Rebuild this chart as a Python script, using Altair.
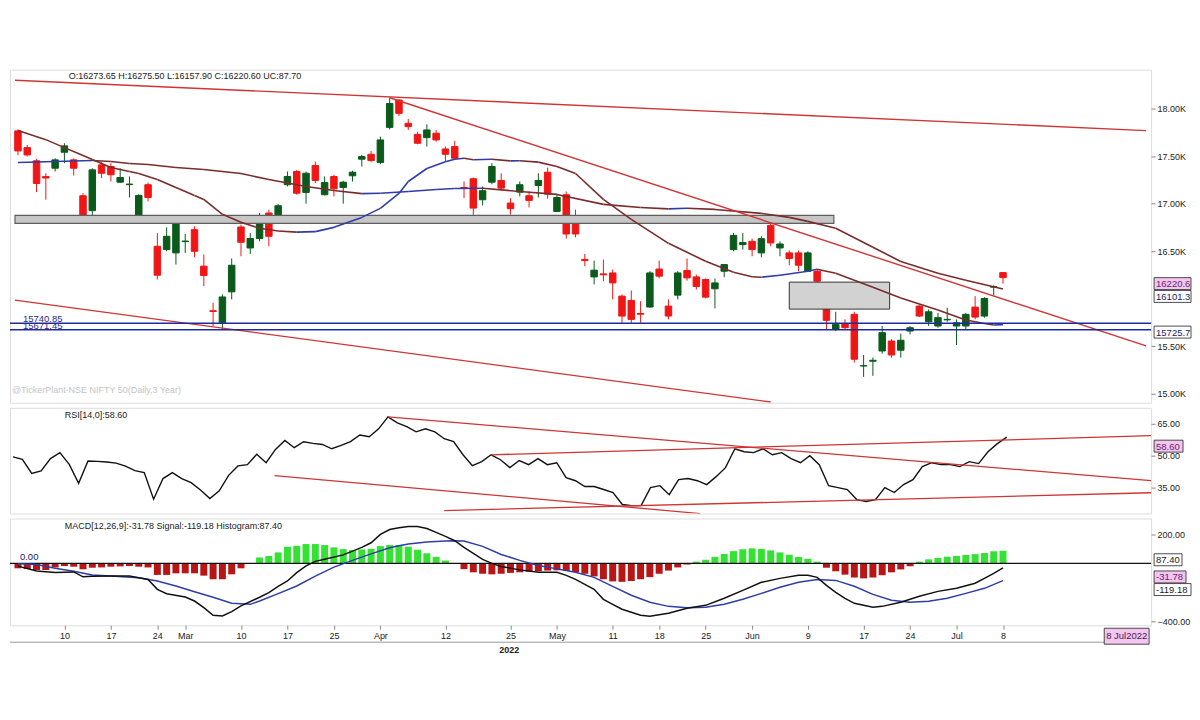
import altair as alt
import pandas as pd

# ---------------- data ----------------
OPEN = [17766,17590,17451,17285,17373,17541,17461,17083,16926,17408,17391,17226,17200,16848,17199,16551,16516,16481,16600,16726,
        16341,15872,15745,16071,16754,16533,16632,16901,16873,17199,17338,17118,17401,17094,17286,17170,17293,17468,17520,17433,
        17803,18091,17846,17730,17695,17741,17576,17601,17170,17262,17041,17226,17244,17006,17121,17083,17191,17331,16918,17094,
        16858,16411,16228,16260,16270,16026,15981,15843,15911,16311,15921,16036,16295,16228,16201,16103,16288,16516,16568,16603,
        16481,16771,16533,16481,16481,16288,16288,15886,15676,15735,15834,15290,15340,15448,15553,15456,15658,15921,15756,15711,
        15776,15711,15711,15910,15816,16120,16273.65]
HIGH = [17780,17618,17472,17320,17478,17636,17478,17110,17373,17436,17426,17373,17286,17100,17223,16690,16750,16813,16680,16761,
        16464,15956,16045,16422,16779,16690,16901,16936,16995,17338,17356,17338,17443,17286,17304,17241,17346,17514,17556,17706,
        18115,18102,17892,17758,17835,17776,17601,17661,17233,17275,17181,17426,17320,17058,17233,17128,17320,17380,17094,17128,
        16936,16470,16400,16411,16306,16043,16085,15973,16288,16400,15991,16288,16422,16253,16212,16212,16365,16690,16690,16631,
        16656,16796,16603,16506,16506,16498,16306,15903,15861,15781,15861,15406,15378,15711,15571,15630,15711,15931,15886,15850,
        15903,15781,15850,16026,16015,16141,16275.50]
LOW = [17510,17496,17121,17041,17338,17426,17296,16796,16831,17268,17233,17216,17065,16835,17023,16201,16498,16359,16481,16435,
       16131,15711,15671,15991,16446,16470,16603,16551,16842,17181,17094,16999,17216,17086,17076,16999,17233,17391,17436,17415,
       17782,17923,17776,17625,17601,17653,17443,17461,17058,16820,16981,17205,17136,16884,17076,16960,17065,17052,16911,16632,
       16645,16341,16149,16183,15991,15745,15745,15745,15903,16212,15781,15991,16189,16096,16001,15897,16225,16498,16516,16446,
       16435,16551,16446,16351,16288,16281,16165,15676,15658,15676,15326,15175,15186,15420,15378,15378,15623,15805,15711,15693,
       15756,15511,15676,15781,15798,16033,16157.90]
CLOSE = [17555,17513,17212,17270,17461,17608,17373,16842,17356,17320,17304,17275,17206,17086,17065,16246,16656,16785,16606,16498,
         16243,15864,16017,16351,16593,16632,16873,16656,16978,17286,17110,17320,17244,17223,17157,17226,17331,17496,17454,17671,
         18055,17951,17811,17636,17776,17671,17520,17478,17160,16953,17136,17391,17163,16947,17199,17034,17244,17100,17065,16680,
         16680,16400,16299,16250,16165,15816,15781,15835,16270,16236,15816,16270,16218,16127,16015,16165,16358,16666,16590,16516,
         16631,16586,16575,16422,16351,16481,16183,15771,15729,15693,15361,15293,15350,15641,15406,15561,15693,15816,15861,15799,
         15781,15745,15834,15805,16001,16126,16220.60]

MA20_IDX = [0,3,5,7,8,10,12,13,15,17,19,20,22,24,26,28,30,32,34,37,39,41,42,44,46,47,48,49,51,53,54,56,58,60,63,66,70,74,77,79,80,82,85,86,88,92,95,99,102,104,105,106]
MA20_VAL = [17770,17674,17590,17506,17464,17380,17338,17317,17254,17170,17086,17044,16887,16803,16740,16712,16700,16705,16750,16855,16950,17107,17233,17370,17440,17468,17478,17462,17468,17450,17452,17437,17391,17317,17044,16834,16582,16393,16278,16230,16225,16246,16288,16309,16267,16120,16005,15879,15774,15738,15722,15725.7]
MA50_IDX = [0,4,8,10,12,14,17,20,24,27,31,34,37,39,42,45,47,50,54,58,63,67,70,72,75,80,83,85,88,92,95,99,102,106]
MA50_VAL = [17433,17443,17454,17443,17422,17412,17380,17359,17317,17254,17181,17139,17105,17110,17128,17149,17160,17162,17128,17097,16992,16960,16945,16952,16939,16897,16855,16813,16740,16540,16391,16267,16194,16101.3]

RSI = [49.4,48.3,41.7,42.9,48.6,51.4,45.9,37.1,47.5,47.3,47.0,46.5,45.1,43.0,42.1,29.7,39.3,42.1,39.3,37.4,
       34.0,30.0,33.6,40.8,45.2,45.8,50.6,46.7,52.9,57.1,53.7,56.5,55.7,55.2,53.2,54.8,56.5,59.6,58.8,62.5,
       68.1,65.3,63.5,61.1,62.5,61.1,57.9,56.5,50.4,45.3,47.2,50.4,48.1,44.4,47.7,45.8,48.6,45.8,46.7,39.7,
       38.3,35.6,35.6,34.2,32.8,27.2,26.7,26.7,35.1,36.0,31.8,38.8,39.3,38.3,36.5,40.2,44.4,53.2,51.8,51.4,
       53.2,50.4,51.4,48.6,46.7,50.0,45.8,36.0,35.1,34.2,29.5,28.6,29.5,35.1,32.8,36.5,38.8,44.9,46.7,45.8,
       45.8,44.9,47.2,46.3,51.8,55.6,58.6]

MACD_IDX = [0,2,4,6,7,8,10,12,14,15,16,18,19,20,21,22,23,24,26,27,28,29,30,31,32,33,35,37,38,39,40,41,42,43,44,45,46,47,48,49,50,51,52,54,56,58,59,60,61,62,63,64,65,66,67,68,70,72,74,76,78,80,82,84,85,86,87,88,89,90,91,92,93,95,97,99,101,103,104,105,106]
MACD_VAL = [-19,-53,-64,-59,-93,-90,-88,-88,-111,-180,-210,-233,-261,-307,-360,-365,-334,-295,-235,-203,-159,-122,-64,-17,14,28,59,111,143,201,235,247,256,256,242,215,187,157,111,69,28,0,-21,-45,-62,-62,-83,-111,-145,-180,-249,-284,-318,-339,-360,-367,-346,-311,-291,-242,-187,-131,-104,-83,-83,-97,-152,-201,-242,-277,-291,-304,-298,-270,-228,-194,-173,-138,-104,-69,-31.78]
SIG_IDX = [0,2,4,6,8,10,13,15,17,19,21,23,25,26,28,30,32,34,36,38,40,41,42,44,46,47,48,50,52,54,56,58,60,62,64,66,68,70,72,74,76,78,80,82,84,86,88,90,92,94,96,98,100,102,104,106]
SIG_VAL = [-2,-7,-33,-55,-80,-88,-99,-122,-157,-197,-235,-277,-284,-261,-210,-157,-88,-26,21,66,108,122,134,148,156,157,155,118,62,21,-14,-38,-62,-97,-159,-221,-270,-298,-308,-304,-284,-249,-208,-166,-131,-111,-118,-159,-215,-256,-270,-263,-242,-208,-173,-119.18]
HIST = [-34,-39,-46,-46,-28,-18,-23,-41,-30,-28,-23,-21,-18,-23,-28,-80,-80,-69,-69,-69,-85,-110,-110,-76,-34,
        -4,
        41,51,76,115,122,134,134,127,111,99,92,97,101,120,127,127,
        116,95,70,45,20,
        -3,
        -40,-62,-72,-76,-72,-66,-62,-58,-55,-50,-48,-52,-60,-72,-90,-110,-125,-128,-122,-110,-95,-72,-50,-28,-8,
        12,25,45,65,85,98,104,100,90,76,60,45,32,12,
        -30,-55,-78,-98,-104,-98,-82,-62,-42,-20,
        12,28,38,46,52,58,64,72,84,87.4]

TICK_IDX = [5,10,15,18,24,29,34,39,46,53,58,64,69,74,79,85,91,96,101,106]
TICK_LABELS = ["10","17","24","Mar","10","17","25","Apr","12","25","May","11","18","25","Jun","9","17","24","Jul","8"]
PRICE_TICKS = [15000,15500,16500,17000,17500,18000]

# trend lines: start idx, start value, end idx, end value
PRICE_TREND = [(-0.32,18300,121.4,17769),(40,18115,121.4,15501),(-0.32,15984,81,14910)]
RSI_TREND = [(40,68.1,121.4,38.3),(51,50.4,121.4,59.3),(46,24.4,121.4,32.7),(27.9,40.7,73.3,23.0)]
SUPPORTS = [15740.85, 15671.45]
BAND = (-0.32, 87.8, 16792, 16876)
BOX = (83.0, 93.8, 15889, 16173)

# ---------------- styling ----------------
W = 1144
HP, HR, HM = 334, 106, 107
FONT = "Liberation Sans"
BULL, BEAR = "#0b5a1c", "#f01616"
BROWN, BLUE = "#7a2c2c", "#2f3da6"
TRED = "#d03434"
SUPB = "#1f2a9c"
PINK = "#f2c6ee"
HGREEN, HRED = "#33e233", "#b81616"

XS = alt.Scale(domain=[-0.32, 121.4], nice=False, zero=False)
YP = alt.Scale(domain=[14902, 18411], nice=False, zero=False)
YR = alt.Scale(domain=[23.0, 72.3], nice=False, zero=False)
YM = alt.Scale(domain=[-429, 311], nice=False, zero=False)

N = len(CLOSE)
cdf = pd.DataFrame({"i": list(range(N)), "o": OPEN, "h": HIGH, "l": LOW, "c": CLOSE})
cdf["dir"] = ["up" if c >= o else "down" for o, c in zip(OPEN, CLOSE)]
cdf["top"] = [max(o, c) for o, c in zip(OPEN, CLOSE)]
cdf["bot"] = [min(o, c) for o, c in zip(OPEN, CLOSE)]

labexpr = "[" + ",".join(f"'{s}'" for s in TICK_LABELS) + "][indexof([" + ",".join(str(v) for v in TICK_IDX) + "], datum.value)]"
x_axis = alt.Axis(values=TICK_IDX, labelExpr=labexpr, tickSize=4, grid=False, domain=False, labelFontSize=9,
                  labelColor="#222", title="2022", titleX=500, titleY=24, titleBaseline="middle", titleAlign="center",
                  titleFontSize=9, titleFontWeight="bold", titleColor="#222", labelPadding=2, labelFont=FONT, titleFont=FONT)

def mkX(axis):
    def X(f):
        return alt.X(f, type="quantitative", scale=XS, axis=axis, title=None)
    return X

def mkY(scale, axis):
    def Y(f):
        return alt.Y(f, type="quantitative", scale=scale, axis=axis, title=None)
    return Y

price_axis = alt.Axis(orient="right", values=PRICE_TICKS, labelExpr="format(datum.value/1000,'.2f')+'K'",
                      tickSize=4, grid=False, domain=False, title=None, labelFontSize=9, labelColor="#222", labelFont=FONT)
rsi_axis = alt.Axis(orient="right", values=[35, 50, 65], format=".2f", tickSize=4, grid=False, domain=False,
                    title=None, labelFontSize=9, labelColor="#222", labelFont=FONT)
macd_axis = alt.Axis(orient="right", values=[200, -400], format=".2f", tickSize=4, grid=False, domain=False,
                     title=None, labelFontSize=9, labelColor="#222", labelFont=FONT)

def seg_table(idx, val):
    rows = []
    for k in range(len(idx) - 1):
        rows.append({"x": idx[k], "x2": idx[k + 1], "y": val[k], "y2": val[k + 1],
                     "dir": "up" if val[k + 1] > val[k] else "down"})
    return pd.DataFrame(rows)

def value_box(v, label, Y, fill, tcolor, w, off):
    d = pd.DataFrame({"v": [v], "label": [label]})
    r = alt.Chart(d).mark_rect(fill=fill, stroke="#222", strokeWidth=0.8, yOffset=off, y2Offset=off + 12).encode(
        x=alt.value(W + 3), x2=alt.value(W + 3 + w), y=Y("v"), y2="v")
    t = alt.Chart(d).mark_text(align="left", baseline="middle", dy=off + 6.5, fontSize=9.5, color=tcolor, font=FONT).encode(
        x=alt.value(W + 5), y=Y("v"), text="label:N")
    return [r, t]

def split_color(chart_base, mark_fn, up_color, down_color, enc):
    up = mark_fn(chart_base.transform_filter(alt.datum.dir == "up"), up_color).encode(**enc)
    dn = mark_fn(chart_base.transform_filter(alt.datum.dir == "down"), down_color).encode(**enc)
    return [up, dn]

# ---------------- price panel ----------------
Xn = mkX(None)
YPf = mkY(YP, price_axis)

cbase = alt.Chart(cdf)
wicks = split_color(cbase, lambda c, col: c.mark_rule(strokeWidth=1, color=col), BULL, BEAR,
                    dict(x=Xn("i"), y=YPf("l"), y2="h"))
bodies = split_color(cbase, lambda c, col: c.mark_bar(size=6.5, strokeWidth=1, color=col, stroke=col), BULL, BEAR,
                     dict(x=Xn("i"), y=YPf("top"), y2="bot"))

band_df = pd.DataFrame([{"x": BAND[0], "x2": BAND[1], "y": BAND[2], "y2": BAND[3]}])
band = alt.Chart(band_df).mark_rect(fill="#c6c6c6", stroke="#5e5e5e", strokeWidth=1.2).encode(
    x=Xn("x"), x2="x2", y=YPf("y"), y2="y2")
box_df = pd.DataFrame([{"x": BOX[0], "x2": BOX[1], "y": BOX[2], "y2": BOX[3]}])
gbox = alt.Chart(box_df).mark_rect(fill="#d2d2d2", stroke="#333", strokeWidth=1).encode(
    x=Xn("x"), x2="x2", y=YPf("y"), y2="y2")

def ma_layers(idx, val):
    return split_color(alt.Chart(seg_table(idx, val)), lambda c, col: c.mark_rule(strokeWidth=1.6, color=col),
                       BLUE, BROWN, dict(x=Xn("x"), x2="x2", y=YPf("y"), y2="y2"))

ptr_df = pd.DataFrame([{"x": a, "y": b, "x2": c, "y2": d} for a, b, c, d in PRICE_TREND])
ptrend = alt.Chart(ptr_df).mark_rule(color=TRED, strokeWidth=1.4, clip=True).encode(
    x=Xn("x"), x2="x2", y=YPf("y"), y2="y2")

sup_df = pd.DataFrame({"v": SUPPORTS, "label": [f"{v:.2f}" for v in SUPPORTS]})
sup = alt.Chart(sup_df).mark_rule(color=SUPB, strokeWidth=1.5).encode(y=YPf("v"))
sup_txt = alt.Chart(sup_df).mark_text(align="left", baseline="bottom", dy=1, fontSize=9.5, color="#2a2a8a", font=FONT).encode(
    x=alt.value(13), y=YPf("v"), text="label:N")

header_df = pd.DataFrame({"t": [f"O:{OPEN[-1]:.2f}  H:{HIGH[-1]:.2f}  L:{LOW[-1]:.2f}  C:{CLOSE[-1]:.2f}  UC:87.70"]})
header = alt.Chart(header_df).mark_text(align="left", baseline="middle", fontSize=9, color="#222", font=FONT).encode(
    x=alt.value(59), y=alt.value(6), text="t:N")
wm_df = pd.DataFrame({"t": ["@TickerPlant-NSE NIFTY 50(Daily,3 Year)"]})
wmark = alt.Chart(wm_df).mark_text(align="left", baseline="middle", fontSize=9, color="#c4c4c4", font=FONT).encode(
    x=alt.value(2), y=alt.value(321), text="t:N")

pboxes = (value_box(CLOSE[-1], "16220.6", YPf, PINK, "#6a2470", 37, 0)
          + value_box(MA50_VAL[-1], "16101.3", YPf, "white", "#1c1c5c", 37, 1.5)
          + value_box(MA20_VAL[-1], "15725.7", YPf, "white", "#1c1c5c", 37, 1.5))

price = alt.layer(*wicks, *bodies, band, gbox, *ma_layers(MA50_IDX, MA50_VAL), *ma_layers(MA20_IDX, MA20_VAL),
                  ptrend, sup, sup_txt, header, wmark, *pboxes).properties(width=W, height=HP)

# ---------------- RSI panel ----------------
YRf = mkY(YR, rsi_axis)
rdf = pd.DataFrame({"i": list(range(N)), "rsi": RSI})
rline = alt.Chart(rdf).mark_line(color="#111", strokeWidth=1.4).encode(x=Xn("i"), y=YRf("rsi"))
rtr_df = pd.DataFrame([{"x": a, "y": b, "x2": c, "y2": d} for a, b, c, d in RSI_TREND])
rtrend = alt.Chart(rtr_df).mark_rule(color=TRED, strokeWidth=1.3, clip=True).encode(
    x=Xn("x"), x2="x2", y=YRf("y"), y2="y2")
rlab = alt.Chart(pd.DataFrame({"t": [f"RSI[14,0]:{RSI[-1]:.2f}"]})).mark_text(
    align="left", baseline="middle", fontSize=9, color="#222", font=FONT).encode(x=alt.value(55), y=alt.value(7), text="t:N")
rboxes = value_box(RSI[-1], "58.60", YRf, PINK, "#6a2470", 29, 3)
rsi = alt.layer(rline, rtrend, rlab, *rboxes).properties(width=W, height=HR)

# ---------------- MACD panel ----------------
Xm = mkX(x_axis)
YMf = mkY(YM, macd_axis)
hdf = pd.DataFrame({"i": list(range(N)), "h": HIST})
hdf["dir"] = ["up" if v >= 0 else "down" for v in HIST]
hist = split_color(alt.Chart(hdf), lambda c, col: c.mark_bar(size=7, color=col), HGREEN, HRED,
                   dict(x=Xm("i"), y=YMf("h"), y2=alt.datum(0)))
zero = alt.Chart(pd.DataFrame({"v": [0]})).mark_rule(color="#111", strokeWidth=1.2).encode(y=YMf("v"))
zlab = alt.Chart(pd.DataFrame({"v": [0], "t": ["0.00"]})).mark_text(
    align="left", baseline="bottom", dy=-1, fontSize=9.5, color="#1c1c5c", font=FONT).encode(
    x=alt.value(10), y=YMf("v"), text="t:N")
mdf = pd.DataFrame({"i": MACD_IDX, "v": MACD_VAL})
sdf = pd.DataFrame({"i": SIG_IDX, "v": SIG_VAL})
mline = alt.Chart(mdf).mark_line(color="#111", strokeWidth=1.5).encode(x=Xm("i"), y=YMf("v"))
sline = alt.Chart(sdf).mark_line(color=BLUE, strokeWidth=1.5).encode(x=Xm("i"), y=YMf("v"))
mlab = alt.Chart(pd.DataFrame({"t": [f"MACD[12,26,9]:{MACD_VAL[-1]:.2f} Signal:{SIG_VAL[-1]:.2f} Histogram:{HIST[-1]:.2f}"]})).mark_text(
    align="left", baseline="middle", fontSize=9, color="#222", font=FONT).encode(x=alt.value(55), y=alt.value(7), text="t:N")
mboxes = (value_box(HIST[-1], "87.40", YMf, "white", "#222", 28, 3)
          + value_box(MACD_VAL[-1], "-31.78", YMf, PINK, "#6a2470", 32, 3)
          + value_box(SIG_VAL[-1], "-119.18", YMf, "white", "#222", 37, 3))
sep = alt.Chart(pd.DataFrame({"t": ["sep"]})).mark_rule(color="#9a9a9a", strokeWidth=1).encode(
    x=alt.value(0), x2=alt.value(1097), y=alt.value(HM + 17))
dbox = alt.Chart(pd.DataFrame({"t": ["8 Jul2022"]})).mark_rect(fill=PINK, stroke="#222", strokeWidth=0.8).encode(
    x=alt.value(1097), x2=alt.value(1142), y=alt.value(110), y2=alt.value(126))
dtxt = alt.Chart(pd.DataFrame({"t": ["8 Jul2022"]})).mark_text(
    align="center", baseline="middle", fontSize=9.5, color="#4a1a50", font=FONT).encode(
    x=alt.value(1119.5), y=alt.value(118), text="t:N")
macd = alt.layer(*hist, zero, zlab, sline, mline, mlab, *mboxes, sep, dbox, dtxt).properties(width=W, height=HM)

chart = alt.vconcat(price, rsi, macd, spacing=3).properties(
    padding={"left": 0, "top": 60, "right": 0, "bottom": 0}
).configure_view(stroke="#222", strokeWidth=1).configure(font=FONT)

chart.save("out.html", embed_options={"renderer": "svg", "actions": False})
